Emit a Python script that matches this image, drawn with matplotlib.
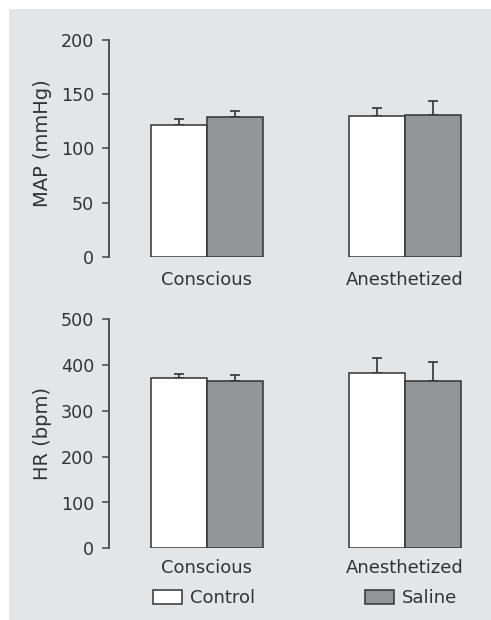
import matplotlib
matplotlib.use("Agg")
import matplotlib.pyplot as plt
from matplotlib.patches import Rectangle, Patch
import numpy as np

plt.rcParams['font.family'] = ['DejaVu Sans']

# Data
conditions = ["Conscious", "Anesthetized"]
groups = ["Control", "Saline"]

map_control = [122, 130]
map_control_err = [5.5, 7]
map_saline = [129, 131]
map_saline_err = [5.5, 12.5]

hr_control = [372, 383]
hr_control_err = [8, 32]
hr_saline = [365, 366]
hr_saline_err = [13, 41]

map_ticks = [0, 50, 100, 150, 200]
hr_ticks = [0, 100, 200, 300, 400, 500]

# Styling
W, H = 491, 620
panel_color = "#e4e5e7"
saline_color = "#949597"
edge_color = "#333333"
text_color = "#333333"

fig = plt.figure(figsize=(W / 100, H / 100), dpi=100)
fig.patch.set_facecolor("white")
fig.patches.append(Rectangle((9 / W, 0), 1 - 9 / W, 1 - 9 / H,
                             transform=fig.transFigure, facecolor=panel_color,
                             edgecolor="none", zorder=-10))


def px_axes(left, top, right, bottom):
    return fig.add_axes([left / W, 1 - bottom / H, (right - left) / W, (bottom - top) / H])


x = np.arange(len(conditions))
spacing_px = 198.0
bar_w = 56 / spacing_px
left_px, right_px = 109, 472
center0_px = 207


def draw_panel(ax, ctrl, ctrl_err, sal, sal_err, ticks, ylabel, label_pad, label_y):
    ax.set_facecolor("none")
    ax.bar(x - bar_w / 2, ctrl, bar_w, color="white", edgecolor=edge_color, linewidth=1.1, zorder=2)
    ax.bar(x + bar_w / 2, sal, bar_w, color=saline_color, edgecolor=edge_color, linewidth=1.1, zorder=2)
    for off, vals, errs in ((-bar_w / 2, ctrl, ctrl_err), (bar_w / 2, sal, sal_err)):
        ax.errorbar(x + off, vals, yerr=[np.zeros(len(errs)), errs], fmt="none",
                    ecolor=edge_color, elinewidth=1.2, capsize=3.3, capthick=1.2, zorder=1)
    ax.set_xlim((left_px - center0_px) / spacing_px, (right_px - center0_px) / spacing_px)
    ax.set_ylim(ticks[0], ticks[-1])
    ax.set_yticks(ticks)
    for s in ("top", "right", "bottom"):
        ax.spines[s].set_visible(False)
    ax.spines["left"].set_color("#444444")
    ax.spines["left"].set_linewidth(1.3)
    ax.spines["left"].set_bounds(ticks[0], ticks[-1])
    ax.tick_params(axis="y", direction="out", length=5, width=1.1, color="#444444",
                   labelsize=12.6, labelcolor=text_color, pad=5.5)
    ax.set_xticks(x)
    ax.set_xticklabels(conditions)
    ax.tick_params(axis="x", length=0, labelsize=13, labelcolor=text_color, pad=label_pad)
    ax.set_ylabel(ylabel, fontsize=14, color=text_color)
    ax.yaxis.set_label_coords(-0.158, label_y)


ax1 = px_axes(left_px, 40, right_px, 256.7)
draw_panel(ax1, map_control, map_control_err, map_saline, map_saline_err,
           map_ticks, "MAP (mmHg)", 10, 0.525)

ax2 = px_axes(left_px, 319.3, right_px, 548.3)
draw_panel(ax2, hr_control, hr_control_err, hr_saline, hr_saline_err,
           hr_ticks, "HR (bpm)", 8, 0.5)

handles = [Patch(facecolor="white", edgecolor=edge_color, linewidth=1.1),
           Patch(facecolor=saline_color, edgecolor=edge_color, linewidth=1.1)]
fig.legend(handles, groups, loc="center left", bbox_to_anchor=(153 / W, 1 - 598.4 / H),
           ncol=2, frameon=False, fontsize=13, labelcolor=text_color,
           handlelength=1.6, handleheight=0.82, handletextpad=0.45,
           columnspacing=6.1, borderpad=0, borderaxespad=0)

fig.savefig("out.png", dpi=100, facecolor="white")
